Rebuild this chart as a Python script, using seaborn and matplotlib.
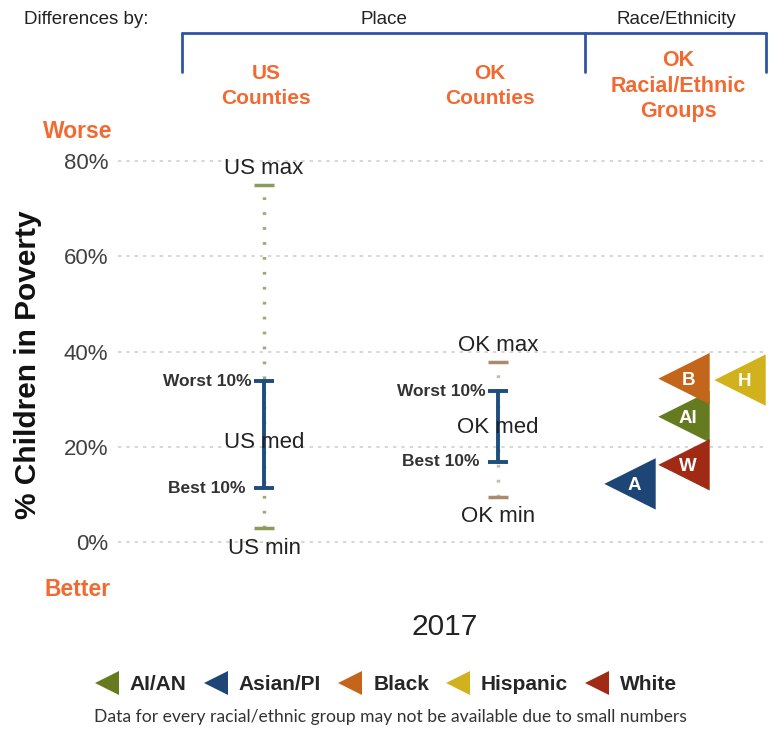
import matplotlib
matplotlib.use("Agg")
import matplotlib.pyplot as plt
import seaborn as sns
import pandas as pd
from matplotlib.lines import Line2D

# ---- data (% children in poverty, 2017) ----
place_groups = ["US", "OK"]
place_max = [75.0, 37.8]
place_worst10 = [33.8, 31.7]
place_median = [20.8, 24.0]
place_best10 = [11.3, 16.8]
place_min = [2.9, 9.5]

race_codes = ["AI", "A", "B", "H", "W"]
race_names = ["AI/AN", "Asian/PI", "Black", "Hispanic", "White"]
race_values = [26.3, 12.2, 34.3, 34.0, 16.2]

yticks = [0, 20, 40, 60, 80]

# ---- layout / style ----
W, H = 778, 730
place_x = [1.46, 3.80]
race_x = {"AI": 5.66, "A": 5.12, "B": 5.66, "H": 6.22, "W": 5.66}
race_colors = {"AI": "#667a1f", "A": "#1d4677", "B": "#c4651c", "H": "#d2b21c", "W": "#a02a14"}
cap_colors = ["#8c9a5c", "#a88c6c"]
dot_colors = ["#a0aa74", "#cdb9a2"]
blue = "#1d4e7e"
orange = "#f26a32"
FONT = ["Liberation Sans", "DejaVu Sans"]


def fx(px):
    return px / W


def fy(py):
    return 1 - py / H


sns.set_style("white")
plt.rcParams["font.family"] = FONT

fig = plt.figure(figsize=(W / 100, H / 100), dpi=100)
ax = fig.add_axes([fx(118), fy(551.5), fx(768) - fx(118), fy(142) - fy(551.5)])
ax.set_xlim(0, 6.5)
ax.set_ylim(-2, 84)

for y in yticks:
    ax.axhline(y, color="#cfcfcf", lw=1.2, ls=(0, (2, 3)), zorder=0)

# ---- place ranges ----
for i, g in enumerate(place_groups):
    x = place_x[i]
    ax.plot([x, x], [place_min[i], place_max[i]], color=dot_colors[i], lw=2.5,
            ls=(0, (0.8, 3.5)), zorder=1)
    ax.plot([x, x], [place_min[i], place_max[i]], ls="none", marker="_", ms=15,
            mew=2.5, color=cap_colors[i], zorder=2)
    ax.plot([x, x], [place_best10[i], place_worst10[i]], color=blue, lw=2.8, zorder=3)
    ax.plot([x, x], [place_best10[i], place_worst10[i]], ls="none", marker="_", ms=15,
            mew=2.8, color=blue, zorder=3)

    ax.annotate(f"{g} max", (x, place_max[i]), xytext=(0, 12), textcoords="offset points",
                ha="center", va="center", fontsize=16, color="#222222")
    ax.annotate(f"{g} min", (x, place_min[i]), xytext=(0, -14.5), textcoords="offset points",
                ha="center", va="center", fontsize=16, color="#222222")
    ax.annotate(f"{g} med", (x, place_median[i]), ha="center", va="center",
                fontsize=16, color="#222222", zorder=4)
    ax.annotate("Worst 10%", (x, place_worst10[i]), xytext=(-9, 0), textcoords="offset points",
                ha="right", va="center", fontsize=12.5, fontweight="bold", color="#333333")
    ax.annotate("Best 10%", (x, place_best10[i]), xytext=(-13, 0), textcoords="offset points",
                ha="right", va="center", fontsize=12.5, fontweight="bold", color="#333333")

# ---- race / ethnicity triangles ----
race_df = pd.DataFrame({
    "code": race_codes,
    "name": race_names,
    "value": race_values,
    "x": [race_x[c] for c in race_codes],
})
sns.scatterplot(data=race_df, x="x", y="value", hue="code", palette=race_colors,
                marker="<", s=37 ** 2, linewidth=0, legend=False, ax=ax, zorder=5)
for _, r in race_df.iterrows():
    ax.annotate(r["code"], (r["x"], r["value"]), xytext=(3, -1), textcoords="offset points",
                ha="center", va="center", fontsize=13.5, fontweight="bold", color="white", zorder=6)

# ---- axes cosmetics ----
ax.set_yticks(yticks)
ax.set_yticklabels([f"{v}%" for v in yticks], fontsize=16, color="#404040")
ax.set_xticks([])
ax.tick_params(axis="y", length=0, pad=7)
sns.despine(ax=ax, left=True, bottom=True)
ax.set_ylabel("")
ax.set_xlabel("")
fig.text(fx(28), fy(365), "% Children in Poverty", rotation=90, ha="center", va="center",
         fontsize=21.5, fontweight="bold", color="#111111")

fig.text(fx(78), fy(131), "Worse", ha="center", va="center", fontsize=16.5,
         fontweight="bold", color=orange)
fig.text(fx(78), fy(590), "Better", ha="center", va="center", fontsize=16.5,
         fontweight="bold", color=orange)
fig.text(fx(445), fy(627), "2017", ha="center", va="center", fontsize=21.5, color="#222222")

# ---- header ----
fig.text(fx(86), fy(20), "Differences by:", ha="center", va="center", fontsize=13.5, color="#222222")
fig.text(fx(384), fy(20), "Place", ha="center", va="center", fontsize=13.5, color="#222222")
fig.text(fx(676), fy(20), "Race/Ethnicity", ha="center", va="center", fontsize=13.5, color="#222222")
bcol = "#2f55a4"
fig.add_artist(Line2D([fx(182), fx(766)], [fy(33), fy(33)], color=bcol, lw=2))
for bx in [182, 585, 766]:
    fig.add_artist(Line2D([fx(bx), fx(bx)], [fy(33), fy(72)], color=bcol, lw=2))
fig.text(fx(266), fy(86), "US\nCounties", ha="center", va="center", fontsize=15,
         fontweight="bold", color=orange, linespacing=1.4)
fig.text(fx(490), fy(86), "OK\nCounties", ha="center", va="center", fontsize=15,
         fontweight="bold", color=orange, linespacing=1.4)
fig.text(fx(678), fy(86), "OK\nRacial/Ethnic\nGroups", ha="center", va="center", fontsize=15.5,
         fontweight="bold", color=orange, linespacing=1.25)

# ---- legend ----
handles = [Line2D([], [], ls="none", marker="<", ms=17, mew=0, color=race_colors[c])
           for c in race_codes]
leg = fig.legend(handles, race_names, loc="center", bbox_to_anchor=(fx(386), fy(685)),
                 ncol=5, frameon=False, handletextpad=0.5, columnspacing=0.8,
                 handlelength=1.2, prop={"family": FONT, "weight": "bold", "size": 15})
fig.text(fx(390), fy(717), "Data for every racial/ethnic group may not be available due to small numbers",
         ha="center", va="center", fontsize=12.6, family=["Lato", "DejaVu Sans"], color="#333333")

fig.savefig("out.png", dpi=100)
